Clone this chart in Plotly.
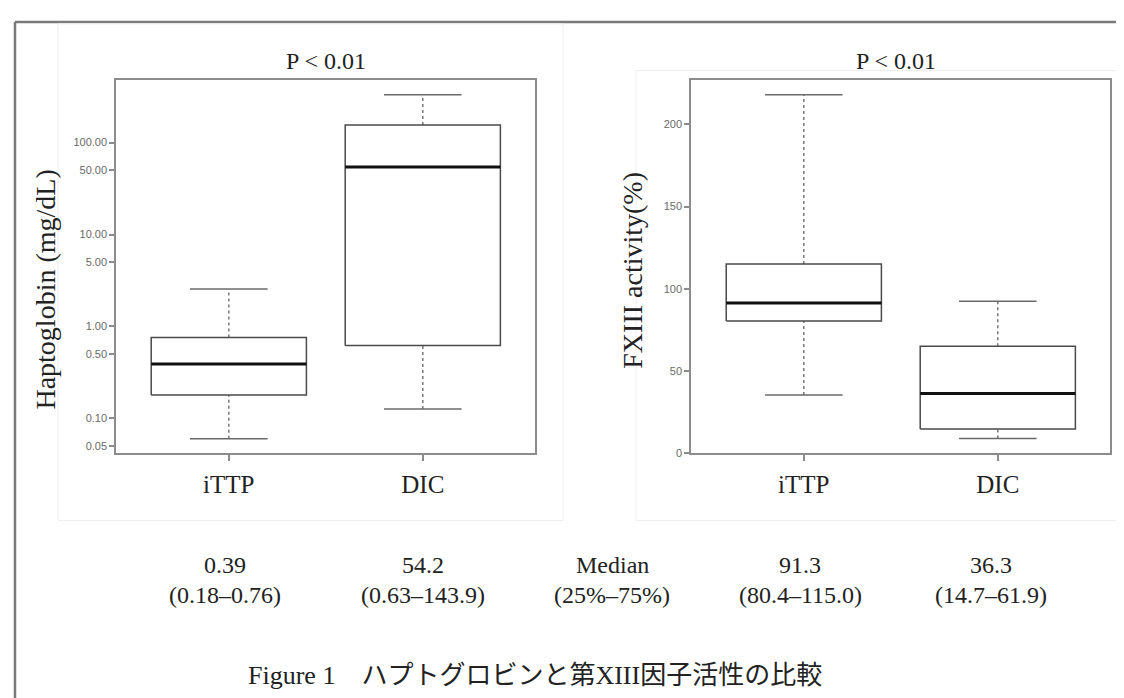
import plotly.graph_objects as go

# ---------------- data ----------------
categories = ["iTTP", "DIC"]

# Haptoglobin (mg/dL), log scale
hapto_low = [0.06, 0.127]
hapto_q1 = [0.18, 0.62]
hapto_med = [0.39, 54.2]
hapto_q3 = [0.76, 155.0]
hapto_high = [2.55, 331.0]
hapto_tickvals = [0.05, 0.10, 0.50, 1.00, 5.00, 10.00, 50.00, 100.00]
hapto_ticktext = ["0.05", "0.10", "0.50", "1.00", "5.00", "10.00", "50.00", "100.00"]

# FXIII activity (%)
fxiii_low = [35.4, 8.9]
fxiii_q1 = [80.4, 14.7]
fxiii_med = [91.3, 36.3]
fxiii_q3 = [115.0, 65.0]
fxiii_high = [218.0, 92.4]
fxiii_tickvals = [0, 50, 100, 150, 200]

panel_titles = ["P < 0.01", "P < 0.01"]
y_titles = ["Haptoglobin (mg/dL)", "FXIII activity(%)"]

median_labels = ["0.39", "54.2", "Median", "91.3", "36.3"]
range_labels = ["(0.18\u20130.76)", "(0.63\u2013143.9)", "(25%\u201375%)", "(80.4\u2013115.0)", "(14.7\u201361.9)"]
caption = "Figure 1\u3000ハプトグロビンと第XIII因子活性の比較"

# ---------------- style ----------------
W, H = 1124, 698
SERIF = "Liberation Serif, Times New Roman, Noto Sans CJK JP, serif"
SANS = "Liberation Sans, Arial, sans-serif"
BOX_HALF = 0.4
CAP_HALF = 0.2
BOX_COLOR = "#4a4a4a"
AXIS_COLOR = "#8c8c8c"


def px(x):
    return x / W


def py(y):
    return 1 - y / H


fig = go.Figure()


def add_boxes(low, q1, med, q3, high, xa, ya):
    for i, _ in enumerate(categories):
        c = i
        # whiskers (dotted)
        for a, b in ((q3[i], high[i]), (low[i], q1[i])):
            fig.add_trace(go.Scatter(x=[c, c], y=[a, b], mode="lines",
                                     line=dict(color="#777777", width=1.5, dash="dot"),
                                     xaxis=xa, yaxis=ya, hoverinfo="skip", showlegend=False))
        # caps
        for v in (low[i], high[i]):
            fig.add_trace(go.Scatter(x=[c - CAP_HALF, c + CAP_HALF], y=[v, v], mode="lines",
                                     line=dict(color="#6a6a6a", width=1.5),
                                     xaxis=xa, yaxis=ya, hoverinfo="skip", showlegend=False))
        # box
        fig.add_trace(go.Scatter(
            x=[c - BOX_HALF, c + BOX_HALF, c + BOX_HALF, c - BOX_HALF, c - BOX_HALF],
            y=[q1[i], q1[i], q3[i], q3[i], q1[i]], mode="lines",
            line=dict(color=BOX_COLOR, width=1.5),
            xaxis=xa, yaxis=ya, hoverinfo="skip", showlegend=False))
        # median
        fig.add_trace(go.Scatter(x=[c - BOX_HALF, c + BOX_HALF], y=[med[i], med[i]], mode="lines",
                                 line=dict(color="#111111", width=3),
                                 xaxis=xa, yaxis=ya, hoverinfo="skip", showlegend=False))


add_boxes(hapto_low, hapto_q1, hapto_med, hapto_q3, hapto_high, "x", "y")
add_boxes(fxiii_low, fxiii_q1, fxiii_med, fxiii_q3, fxiii_high, "x2", "y2")

# plot-area geometry (pixels)
L1, R1 = 108.3, 527.3
L2, R2 = 683.3, 1102.3
TOP, BOT = 72.7, 449.0

xaxis_common = dict(range=[-0.58, 1.58], tickvals=[0, 1], ticktext=categories,
                    showline=True, mirror=True, linecolor=AXIS_COLOR, linewidth=2,
                    ticks="outside", ticklen=6, tickcolor=AXIS_COLOR, tickwidth=1.5,
                    showgrid=False, zeroline=False, ticklabelstandoff=2,
                    tickfont=dict(family=SERIF, size=25, color="#222222"), fixedrange=True)
yaxis_common = dict(showline=True, mirror=True, linecolor=AXIS_COLOR, linewidth=2,
                    ticks="outside", ticklen=5, tickcolor=AXIS_COLOR, tickwidth=1.5,
                    showgrid=False, zeroline=False,
                    tickfont=dict(family=SANS, size=11, color="#6a6a6a"), fixedrange=True)

fig.update_layout(
    width=W, height=H,
    margin=dict(l=0, r=0, t=0, b=0),
    paper_bgcolor="white", plot_bgcolor="white",
    showlegend=False,
    xaxis=dict(domain=[px(L1), px(R1)], anchor="y", **xaxis_common),
    xaxis2=dict(domain=[px(L2), px(R2)], anchor="y2", **xaxis_common),
    yaxis=dict(domain=[py(BOT), py(TOP)], anchor="x", type="log", range=[-1.377, 2.679],
               tickvals=hapto_tickvals, ticktext=hapto_ticktext, **yaxis_common),
    yaxis2=dict(domain=[py(BOT), py(TOP)], anchor="x2", range=[0, 226.9],
                tickvals=fxiii_tickvals, ticktext=[str(v) for v in fxiii_tickvals], **yaxis_common),
)

annotations = []
# panel titles
for t, cx in zip(panel_titles, [(L1 + R1) / 2, 888]):
    annotations.append(dict(text=t, x=px(cx), y=py(53), xref="paper", yref="paper",
                            xanchor="center", yanchor="middle", showarrow=False,
                            font=dict(family=SERIF, size=24, color="#222222")))
# y titles
for t, cx, cy in zip(y_titles, [38, 625], [284, 265]):
    annotations.append(dict(text=t, x=px(cx), y=py(cy), xref="paper", yref="paper",
                            xanchor="center", yanchor="middle", showarrow=False, textangle=-90,
                            font=dict(family=SERIF, size=28, color="#222222")))
# median table
for t1, t2, cx in zip(median_labels, range_labels, [216.7, 415, 604, 792, 983]):
    annotations.append(dict(text=t1, x=px(cx), y=py(561.7), xref="paper", yref="paper",
                            xanchor="center", yanchor="middle", showarrow=False,
                            font=dict(family=SERIF, size=24, color="#222222")))
    annotations.append(dict(text=t2, x=px(cx), y=py(591.7), xref="paper", yref="paper",
                            xanchor="center", yanchor="middle", showarrow=False,
                            font=dict(family=SERIF, size=24, color="#222222")))
# caption
annotations.append(dict(text=caption, x=px(238), y=py(673), xref="paper", yref="paper",
                        xanchor="left", yanchor="middle", showarrow=False,
                        font=dict(family=SERIF, size=26, color="#222222")))
fig.update_layout(annotations=annotations)

shapes = []
# outer frame (left and top edges visible)
shapes.append(dict(type="line", xref="paper", yref="paper", x0=px(7), x1=1.0, y0=py(14), y1=py(14),
                   line=dict(color="#7a7a7a", width=2.5)))
shapes.append(dict(type="line", xref="paper", yref="paper", x0=px(7), x1=px(7), y0=py(14), y1=0.0,
                   line=dict(color="#7a7a7a", width=2.5)))
# faint panel outlines
shapes.append(dict(type="rect", xref="paper", yref="paper", x0=px(50), x1=px(555), y0=py(517), y1=py(16),
                   line=dict(color="#eeeeee", width=1)))
shapes.append(dict(type="rect", xref="paper", yref="paper", x0=px(628), x1=px(1111), y0=py(517), y1=py(63),
                   line=dict(color="#eeeeee", width=1)))
fig.update_layout(shapes=shapes)

fig.write_html("out.html")
